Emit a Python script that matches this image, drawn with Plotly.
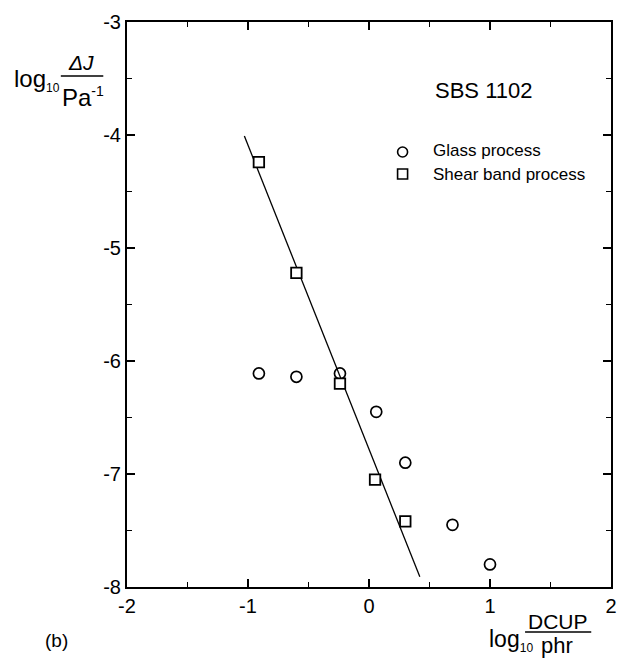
import plotly.graph_objects as go
import numpy as np

# Glass process (open circles)
glass_x = [-0.91, -0.60, -0.24, 0.06, 0.30, 0.69, 1.00]
glass_y = [-6.11, -6.14, -6.11, -6.45, -6.90, -7.45, -7.80]

# Shear band process (open squares)
shear_x = [-0.91, -0.60, -0.24, 0.05, 0.30]
shear_y = [-4.24, -5.22, -6.20, -7.05, -7.42]

# Linear fit through the shear band data
fit_intercept = -6.78
fit_slope = -2.69
fit_x = [-1.03, 0.42]
fit_y = [fit_intercept + fit_slope * x for x in fit_x]

x_ticks = [-2, -1, 0, 1, 2]
x_ticktext = ["-2", "-1", "0", "1", "2"]
y_ticks = [-8, -7, -6, -5, -4, -3]
y_ticktext = ["-8", "-7", "-6", "-5", "-4", "-3"]

W, H = 627, 660
L, R, T, B = 127, 10, 22, 73
FONT = "Liberation Sans, Arial, Helvetica, sans-serif"


def px(x):
    return (x - L) / (W - L - R)


def py(y):
    return (H - B - y) / (H - T - B)


fig = go.Figure()

fig.add_trace(go.Scatter(
    x=fit_x, y=fit_y, mode="lines",
    line=dict(color="black", width=1.3),
    showlegend=False, hoverinfo="skip",
))
fig.add_trace(go.Scatter(
    x=glass_x, y=glass_y, mode="markers", name="Glass process",
    marker=dict(symbol="circle-open", size=11, color="black",
                line=dict(color="black", width=1.7)),
    showlegend=False,
))
fig.add_trace(go.Scatter(
    x=shear_x, y=shear_y, mode="markers", name="Shear band process",
    marker=dict(symbol="square", size=10.5, color="white",
                line=dict(color="black", width=1.8)),
    showlegend=False,
))

axis_common = dict(
    ticks="inside", ticklen=8, tickwidth=1.5, tickcolor="black",
    showline=True, linewidth=2, linecolor="black", mirror="ticks",
    showgrid=False, zeroline=False,
    tickfont=dict(family=FONT, size=20, color="black"),
)

fig.update_xaxes(
    range=[-2, 2], tickvals=x_ticks, ticktext=x_ticktext,
    minor=dict(ticks="inside", ticklen=5, tickwidth=1.2, tickcolor="black",
               tickvals=list(np.arange(-1.5, 2, 1.0)), showgrid=False),
    **axis_common,
)
fig.update_yaxes(
    range=[-8, -3], tickvals=y_ticks, ticktext=y_ticktext,
    minor=dict(ticks="inside", ticklen=5, tickwidth=1.2, tickcolor="black",
               tickvals=list(np.arange(-7.5, -3, 1.0)), showgrid=False),
    **axis_common,
)

annotations = []


def label(text, x, y, size, anchor="center", **kw):
    annotations.append(dict(
        text=text, x=px(x), y=py(y), xref="paper", yref="paper",
        xanchor=anchor, yanchor="middle", showarrow=False,
        font=dict(family=FONT, size=size, color="black"), **kw,
    ))


SUB10 = "<sub><span style='font-size:12px'>10</span></sub>"

# y-axis title: log10 (ΔJ / Pa^-1)
label("log" + SUB10, 11, 80, 24, anchor="left")
label("<i>ΔJ</i>", 80, 62, 21)
label("Pa<sup><span style='font-size:14px'>-1</span></sup>", 82, 97, 24)

# x-axis title: log10 (DCUP / phr)
label("log" + SUB10, 491, 640, 23, anchor="left")
label("DCUP", 563, 621, 21)
label("phr", 562, 645, 22)

# panel tag and sample name
label("(b)", 56, 640, 19)
label("SBS 1102", 488, 90, 22)

# legend entries
label("Glass process", 435, 151, 17, anchor="left")
label("Shear band process", 435, 174, 17, anchor="left")

shapes = [
    # fraction bars
    dict(type="line", xref="paper", yref="paper",
         x0=px(60), x1=px(103), y0=py(76), y1=py(76),
         line=dict(color="black", width=1.5)),
    dict(type="line", xref="paper", yref="paper",
         x0=px(530), x1=px(597), y0=py(632), y1=py(632),
         line=dict(color="black", width=1.5)),
    # legend symbols
    dict(type="circle", xref="paper", yref="paper",
         xsizemode="pixel", ysizemode="pixel",
         xanchor=px(406), yanchor=py(152), x0=-5, x1=5, y0=-5, y1=5,
         line=dict(color="black", width=1.6)),
    dict(type="rect", xref="paper", yref="paper",
         xsizemode="pixel", ysizemode="pixel",
         xanchor=px(406), yanchor=py(174), x0=-5, x1=5, y0=-5, y1=5,
         line=dict(color="black", width=1.6)),
]

fig.update_layout(
    width=W, height=H,
    margin=dict(l=L, r=R, t=T, b=B),
    paper_bgcolor="white", plot_bgcolor="white",
    font=dict(family=FONT, color="black"),
    annotations=annotations, shapes=shapes,
    showlegend=False,
)

fig.write_html("out.html")
